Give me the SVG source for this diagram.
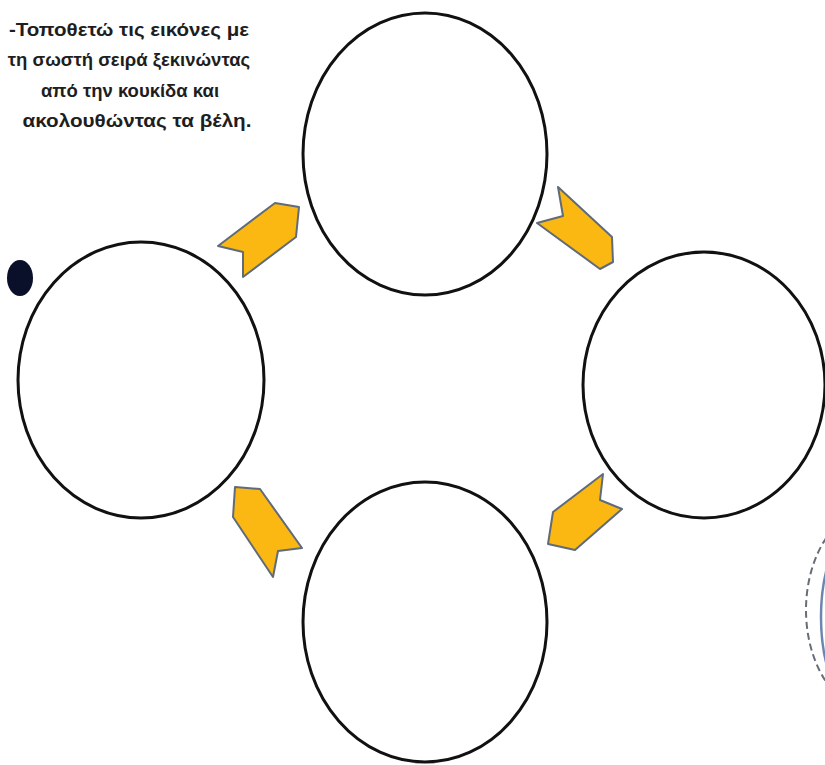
<svg xmlns="http://www.w3.org/2000/svg" width="825" height="765" viewBox="0 0 825 765">
<style>
.c{fill:#fff;stroke:#111;stroke-width:3}
.a{fill:#FBB812;stroke:#5f6b78;stroke-width:2;stroke-linejoin:round}
.t{font-family:"Liberation Sans",Arial,sans-serif;font-weight:bold;font-size:18.5px;fill:#1e1e1e;text-anchor:middle}
</style>
<rect width="825" height="765" fill="#fff"/>
<g id="title">
<text class="t" x="129" y="36" textLength="240" lengthAdjust="spacingAndGlyphs">-Τοποθετώ τις εικόνες με</text>
<text class="t" x="129" y="66">τη σωστή σειρά ξεκινώντας</text>
<text class="t" x="130" y="97">από την κουκίδα και</text>
<text class="t" x="137" y="127" textLength="229" lengthAdjust="spacingAndGlyphs">ακολουθώντας τα βέλη.</text>
</g>
<g id="start-dot"><ellipse cx="20" cy="278" rx="13" ry="18" fill="#0a0f2a"/></g>
<g id="circle-left"><ellipse class="c" cx="141" cy="380" rx="123" ry="138"/></g>
<g id="circle-top"><ellipse class="c" cx="425" cy="154" rx="122" ry="141"/></g>
<g id="circle-right"><ellipse class="c" cx="704" cy="385" rx="121" ry="133"/></g>
<g id="circle-bottom"><ellipse class="c" cx="425" cy="622" rx="122" ry="140"/></g>
<g id="connectors">
<polygon class="a" points="218,246 275,203 299,207 296,237 243,277 243,252"/>
<polygon class="a" points="558,187 612,237 613,262 600,269 537,223 563,216"/>
<polygon class="a" points="603,474 600,500 622,509 575,550 548,544 553,512"/>
<polygon class="a" points="235,487 260,489 302,548 278,551 273,577 233,517"/>
</g>
<g id="partial-right">
<ellipse cx="880" cy="610" rx="74" ry="105" fill="none" stroke="#666d78" stroke-width="2" stroke-dasharray="7 4"/>
<ellipse cx="869" cy="617" rx="48" ry="100" fill="none" stroke="#6d86b0" stroke-width="2.5"/>
</g>
</svg>
